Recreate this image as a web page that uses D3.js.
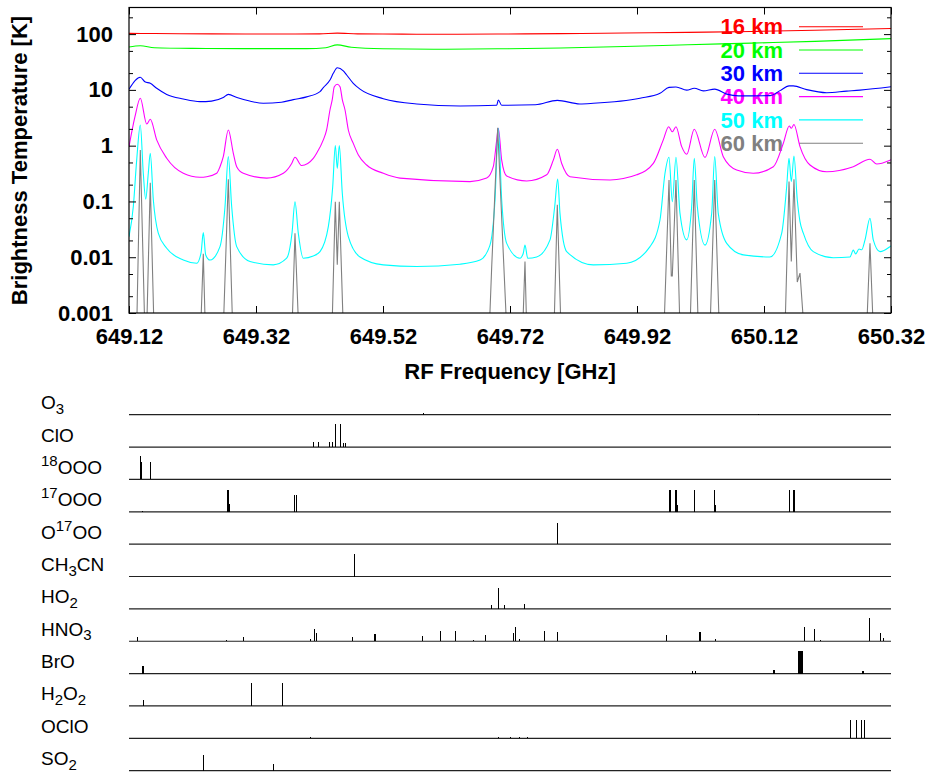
<!DOCTYPE html>
<html>
<head>
<meta charset="utf-8">
<script src="https://cdn.jsdelivr.net/npm/d3@7"></script>
<style>
  body { margin: 0; background: #fff; }
  svg { display: block; font-family: "Liberation Sans", Arial, Helvetica, sans-serif; }
</style>
</head>
<body>
<svg id="chart" width="929" height="773"></svg>
<script>
// tick values / labels
const xTicks = [649.12, 649.32, 649.52, 649.72, 649.92, 650.12, 650.32];
const yTicks = [0.001, 0.01, 0.1, 1, 10, 100];
const yTickLabels = ["0.001", "0.01", "0.1", "1", "10", "100"];

// legend
const altitudes = ["16 km", "20 km", "30 km", "40 km", "50 km", "60 km"];
const altColors = ["#ff0000", "#00ff00", "#0000ff", "#ff00ff", "#00ffff", "#808080"];

// brightness temperature spectra [GHz, K]
const tb16 = [[649.12,103],[649.16,102.5],[649.25,101],[649.35,100.5],[649.42,101],[649.448,104],[649.48,101],[649.55,100],
  [649.6,99.5],[649.7,100.5],[649.8,102],[649.9,104.5],[650.0,107.5],[650.1,111.5],[650.2,117],[650.32,126]];

const tb20 = [[649.12,58.7],[649.1378,62],[649.16,57],[649.22,55.5],[649.3,55],[649.4,55],[649.43,57],[649.448,64],[649.47,58],
  [649.52,54.5],[649.6,53.5],[649.7,54.5],[649.8,56.5],[649.9,60],[650.0,64.5],[650.1,69],[650.2,74],[650.32,83]];

const tb30 = [[649.12,10.3],[649.1378,16.8],[649.145,14],[649.1535,13.1],[649.1636,10.7],[649.1794,8.3],[649.2055,6.87],
  [649.2318,6.15],[649.25,6.3],[649.2685,7.3],[649.2764,8.3],[649.29,7.3],[649.31,6.3],[649.3315,5.75],[649.36,6.0],
  [649.3787,6.7],[649.3998,7.5],[649.4208,9.3],[649.426,11.0],[649.4365,15],[649.4417,19.8],[649.448,25],[649.4575,22],
  [649.4628,18.5],[649.4732,13.1],[649.4838,10.3],[649.5205,6.95],[649.5731,5.59],[649.6413,5.15],[649.6991,5.3],
  [649.7016,6.6],[649.7069,5.3],[649.76,5.4],[649.7945,6.5],[649.83,5.6],[649.8512,5.75],[649.9247,7.1],[649.9562,8.7],
  [649.9704,11.1],[649.9814,11.3],[649.9983,9.9],[650.0102,10.7],[650.0244,9.6],[650.0424,10.3],[650.0613,8.4],
  [650.08,7.8],[650.13,7.9],[650.1452,9.7],[650.1594,11.8],[650.1661,11.8],[650.1872,10.1],[650.2187,8.9],
  [650.25,9.5],[650.2712,9.9],[650.32,11.4]];

const tb40 = [[649.12,0.96],[649.1294,3.3],[649.1378,7.07],[649.1479,2.45],[649.1535,2.97],[649.1636,1.27],[649.1794,0.594],
  [649.2055,0.32],[649.2318,0.272],[649.2424,0.278],[649.2581,0.32],[649.2633,0.42],[649.2685,0.635],[649.2764,1.91],
  [649.2843,0.73],[649.2896,0.42],[649.30,0.32],[649.3369,0.262],[649.363,0.32],[649.3762,0.48],[649.3814,0.62],
  [649.392,0.44],[649.4102,0.59],[649.4155,0.73],[649.426,1.27],[649.4312,1.91],[649.4365,4.36],[649.44,6.6],
  [649.4433,11.4],[649.448,12.6],[649.4523,11.4],[649.456,6.6],[649.4602,4.36],[649.4654,1.91],[649.4732,1.1],
  [649.4812,0.68],[649.4943,0.45],[649.5205,0.32],[649.5468,0.262],[649.657,0.227],[649.6833,0.262],[649.6937,0.42],
  [649.6991,1.27],[649.7016,2.05],[649.7069,0.55],[649.7148,0.286],[649.7463,0.233],[649.7778,0.3],[649.7882,0.55],
  [649.7945,0.86],[649.8014,0.48],[649.8145,0.278],[649.8775,0.243],[649.9195,0.3],[649.9457,0.48],[649.9614,1.27],
  [649.9699,2.19],[649.9756,1.78],[649.9814,2.19],[649.9904,0.96],[649.9983,0.70],[650.0102,1.97],[650.0271,0.615],
  [650.0424,1.97],[650.0559,0.635],[650.077,0.366],[650.1031,0.32],[650.1347,0.42],[650.1504,1.1],[650.1598,2.25],
  [650.163,2.05],[650.1672,2.4],[650.1767,0.96],[650.1924,0.45],[650.2187,0.34],[650.2606,0.42],[650.2869,0.57],
  [650.2975,0.47],[650.3184,0.55],[650.32,0.56]];

const tb50 = [[649.12,0.0234],[649.1268,0.081],[649.1321,0.55],[649.1378,2.35],[649.1425,0.32],[649.1463,0.11],
  [649.1504,0.32],[649.1535,0.73],[649.1583,0.107],[649.1661,0.027],[649.1794,0.0145],[649.2055,0.0089],
  [649.2266,0.0078],[649.2334,0.0118],[649.237,0.0276],[649.2408,0.011],[649.2476,0.0089],[649.2633,0.0155],
  [649.2712,0.081],[649.2764,0.635],[649.2817,0.081],[649.2896,0.0155],[649.3106,0.0084],[649.3472,0.0073],
  [649.3683,0.0096],[649.3767,0.027],[649.3814,0.099],[649.3866,0.027],[649.3945,0.0096],[649.4102,0.0105],
  [649.4208,0.0126],[649.4339,0.0354],[649.4408,0.184],[649.4449,1.0],[649.448,0.39],[649.4512,1.0],[649.4559,0.14],
  [649.4654,0.0234],[649.4838,0.0101],[649.5205,0.0073],[649.5731,0.0068],[649.6413,0.0075],[649.6728,0.0089],
  [649.6885,0.0165],[649.6964,0.107],[649.7016,2.05],[649.7069,0.107],[649.7148,0.0177],[649.7357,0.0096],
  [649.7409,0.0118],[649.7436,0.0165],[649.7479,0.0096],[649.762,0.0101],[649.783,0.0205],[649.7904,0.081],
  [649.7951,0.253],[649.7987,0.061],[649.8093,0.0126],[649.8512,0.0073],[649.9038,0.0078],[649.9405,0.0155],
  [649.9562,0.0465],[649.9641,0.32],[649.9704,0.62],[649.9756,0.099],[649.9814,0.62],[649.9877,0.061],
  [649.9983,0.0205],[650.0061,0.081],[650.0102,0.594],[650.015,0.081],[650.0271,0.0165],[650.0376,0.061],
  [650.0424,0.635],[650.048,0.061],[650.0613,0.0177],[650.0874,0.011],[650.1294,0.0101],[650.1479,0.027],
  [650.1557,0.184],[650.1594,0.594],[650.163,0.227],[650.1672,0.654],[650.1724,0.107],[650.1767,0.0434],
  [650.1819,0.027],[650.1976,0.0126],[650.2291,0.0098],[650.2554,0.0101],[650.2606,0.0134],[650.2644,0.0115],
  [650.2696,0.014],[650.2739,0.0136],[650.2791,0.0205],[650.2869,0.05],[650.2921,0.0205],[650.3027,0.0126],
  [650.3184,0.0155],[650.32,0.016]];

const tb60 = [[649.1321,0.0005],[649.1378,0.84],[649.1449,0.0005],[649.1479,0.0005],[649.1535,0.217],[649.1594,0.0005],
  [649.2329,0.0005],[649.237,0.0115],[649.2402,0.0005],[649.2685,0.0005],[649.2764,0.25],[649.2833,0.0005],
  [649.3767,0.0005],[649.3814,0.027],[649.3872,0.0005],[649.4397,0.0005],[649.4449,0.099],[649.448,0.0073],
  [649.4512,0.099],[649.4575,0.0005],[649.6874,0.0005],[649.6912,0.0068],[649.7006,2.1],[649.7094,0.0118],
  [649.7148,0.0005],[649.74,0.0005],[649.7436,0.0084],[649.7463,0.0005],[649.7893,0.0005],[649.7945,0.087],
  [649.8003,0.0005],[649.9625,0.0005],[649.9704,0.243],[649.974,0.0046],[649.9756,0.0046],[649.9814,0.243],
  [649.9877,0.0005],[650.0035,0.0005],[650.0102,0.243],[650.0165,0.0005],[650.035,0.0005],[650.0424,0.243],
  [650.0496,0.0005],[650.1531,0.0005],[650.1594,0.227],[650.163,0.0084],[650.1672,0.25],[650.1724,0.0036],
  [650.1767,0.0052],[650.183,0.0005],[650.2817,0.0005],[650.2869,0.0177],[650.2921,0.0005]];

// line catalogue panels [GHz, relative strength]
const species = ["O3", "ClO", "18OOO", "17OOO", "O17OO", "CH3CN", "HO2", "HNO3", "BrO", "H2O2", "OClO", "SO2"];
const speciesLabels = [
  [["O",""],["3","sub"]],
  [["ClO",""]],
  [["18","sup"],["OOO",""]],
  [["17","sup"],["OOO",""]],
  [["O",""],["17","sup"],["OO",""]],
  [["CH",""],["3","sub"],["CN",""]],
  [["HO",""],["2","sub"]],
  [["HNO",""],["3","sub"]],
  [["BrO",""]],
  [["H",""],["2","sub"],["O",""],["2","sub"]],
  [["OClO",""]],
  [["SO",""],["2","sub"]]
];
const sO3 = [[649.5841,0.06],[650.1106,0.05]];
const sClO = [[649.4102,0.2],[649.4181,0.2],[649.4354,0.2],[649.4397,0.22],[649.4449,1.0],[649.4523,1.0],
  [649.4575,0.17],[649.4606,0.17]];
const s18OOO = [[649.1378,1.0],[649.14,0.75],[649.1535,0.75]];
const s17OOO = [[649.1405,0.05],[649.2754,0.96],[649.277,0.96],[649.278,0.35],[649.3814,0.74],[649.383,0.74],
  [649.9704,0.96],[649.972,0.96],[649.9809,0.96],[649.9825,0.96],[649.9835,0.3],[650.0102,0.96],[650.0113,0.3],
  [650.0424,0.96],[650.0436,0.3],[650.1594,0.96],[650.1609,0.96],[650.1672,0.96],[650.1688,0.96]];
const sO17OO = [[649.7945,0.91]];
const sCH3CN = [[649.4759,1.0]];
const sHO2 = [[649.6906,0.17],[649.7016,0.91],[649.7121,0.17],[649.7436,0.22]];
const sHNO3 = [[649.1331,0.17],[649.2739,0.04],[649.3011,0.17],[649.4061,0.08],[649.4118,0.52],[649.4156,0.35],
  [649.4723,0.17],[649.5074,0.3],[649.5085,0.3],[649.5819,0.22],[649.6113,0.43],[649.6345,0.43],[649.6622,0.04],
  [649.6822,0.26],[649.7252,0.35],[649.7279,0.6],[649.7347,0.09],[649.774,0.43],[649.7951,0.39],[649.9672,0.26],
  [650.0181,0.39],[650.0203,0.39],[650.0433,0.09],[650.1835,0.6],[650.1992,0.52],[650.2082,0.04],[650.2865,1.0],
  [650.3027,0.35],[650.3079,0.13]];
const sBrO = [[649.1405,0.35],[649.1416,0.35],[649.1427,0.35],[650.0071,0.13],[650.0129,0.13],[650.1347,0.17],
  [650.1362,0.17],[650.1743,1.0],[650.1759,1.0],[650.1775,1.0],[650.1791,1.0],[650.1806,1.0],[650.2748,0.13],
  [650.2764,0.13]];
const sH2O2 = [[649.1425,0.26],[649.3126,1.0],[649.3614,1.0]];
const sOClO = [[649.4066,0.04],[649.4224,0.02],[649.4287,0.02],[649.7016,0.04],[649.72,0.04],[649.7347,0.04],
  [649.7479,0.04],[650.2559,0.78],[650.2654,0.78],[650.2728,0.78],[650.2786,0.78]];
const sSO2 = [[649.237,0.7],[649.3472,0.3]];

const spectra = [tb16, tb20, tb30, tb40, tb50, tb60];
const sticks = [sO3, sClO, s18OOO, s17OOO, sO17OO, sCH3CN, sHO2, sHNO3, sBrO, sH2O2, sOClO, sSO2];

const svg = d3.select("#chart");
svg.append("rect").attr("width", 929).attr("height", 773).attr("fill", "#fff");

const pL = 129, pR = 891, pT = 7.5, pB = 313;
const x = d3.scaleLinear().domain([649.12, 650.32]).range([pL, pR]);
const y = d3.scaleLog().domain([0.001, 300]).range([pB, pT]);

svg.append("clipPath").attr("id", "plotClip")
  .append("rect").attr("x", pL).attr("y", pT).attr("width", pR - pL).attr("height", pB - pT);

// legend (drawn under the curves)
const legend = svg.append("g");
altitudes.forEach((a, i) => {
  const cy = 26.7 + i * 23.3;
  legend.append("text")
    .attr("x", 783).attr("y", cy + 7.6)
    .attr("text-anchor", "end")
    .attr("font-size", 22).attr("font-weight", "bold")
    .attr("fill", altColors[i])
    .text(a);
  legend.append("line")
    .attr("x1", 799).attr("x2", 863).attr("y1", cy).attr("y2", cy)
    .attr("stroke", altColors[i]).attr("stroke-width", 1.1);
});

// spectra
const curves = svg.append("g").attr("clip-path", "url(#plotClip)");
spectra.forEach((s, i) => {
  const line = d3.line()
    .x(d => x(d[0]))
    .y(d => y(d[1]))
    .curve(i === 5 ? d3.curveLinear : d3.curveMonotoneX);
  curves.append("path")
    .attr("d", line(s))
    .attr("fill", "none")
    .attr("stroke", altColors[i])
    .attr("stroke-width", 1.1);
});

// axes
const minor = [];
for (let k = -3; k <= 2; k++) {
  [2, 5].forEach(m => { const v = m * Math.pow(10, k); if (v <= 300) minor.push(+v.toPrecision(3)); });
}

function styleAxis(g) {
  g.select(".domain").remove();
  g.selectAll(".tick line").attr("stroke", "#000").attr("stroke-width", 1);
  g.selectAll(".tick text")
    .attr("font-size", 22).attr("font-weight", "bold")
    .attr("font-family", "'Liberation Sans', Arial, Helvetica, sans-serif")
    .attr("fill", "#000");
}

svg.append("g").attr("transform", `translate(0,${pB})`)
  .call(d3.axisBottom(x).tickValues(xTicks).tickSizeInner(-7).tickSizeOuter(0).tickPadding(15)
    .tickFormat(d3.format(".2f")))
  .call(styleAxis);
svg.append("g").attr("transform", `translate(0,${pT})`)
  .call(d3.axisTop(x).tickValues(xTicks).tickSizeInner(-7).tickSizeOuter(0).tickFormat(""))
  .call(styleAxis);

svg.append("g").attr("transform", `translate(${pL},0)`)
  .call(d3.axisLeft(y).tickValues(yTicks).tickSizeInner(-7).tickSizeOuter(0).tickPadding(16)
    .tickFormat((d, i) => yTickLabels[i]))
  .call(styleAxis);
svg.append("g").attr("transform", `translate(${pL},0)`)
  .call(d3.axisLeft(y).tickValues(minor).tickSizeInner(-4).tickSizeOuter(0).tickFormat(""))
  .call(styleAxis);
svg.append("g").attr("transform", `translate(${pR},0)`)
  .call(d3.axisRight(y).tickValues(yTicks).tickSizeInner(-7).tickSizeOuter(0).tickFormat(""))
  .call(styleAxis);
svg.append("g").attr("transform", `translate(${pR},0)`)
  .call(d3.axisRight(y).tickValues(minor).tickSizeInner(-4).tickSizeOuter(0).tickFormat(""))
  .call(styleAxis);

svg.append("rect")
  .attr("x", pL).attr("y", pT).attr("width", pR - pL).attr("height", pB - pT)
  .attr("fill", "none").attr("stroke", "#000").attr("stroke-width", 1.2);

// axis titles
svg.append("text")
  .attr("transform", "translate(26.5,160.5) rotate(-90)")
  .attr("text-anchor", "middle")
  .attr("font-size", 22).attr("font-weight", "bold")
  .text("Brightness Temperature [K]");
svg.append("text")
  .attr("x", 510).attr("y", 378.5)
  .attr("text-anchor", "middle")
  .attr("font-size", 22).attr("font-weight", "bold")
  .text("RF Frequency [GHz]");

// stick panels
const py = d3.scalePoint().domain(species).range([414.7, 770.7]);
const h = d3.scaleLinear().domain([0, 1]).range([0, 23]);

species.forEach((sp, i) => {
  const g = svg.append("g");
  const base = py(sp);
  g.append("line")
    .attr("x1", pL).attr("x2", pR).attr("y1", base).attr("y2", base)
    .attr("stroke", "#222").attr("stroke-width", 1.2);
  g.selectAll("line.stick")
    .data(sticks[i])
    .join("line")
    .attr("class", "stick")
    .attr("x1", d => x(d[0])).attr("x2", d => x(d[0]))
    .attr("y1", base).attr("y2", d => base - h(d[1]))
    .attr("stroke", "#000").attr("stroke-width", 1)
    .attr("shape-rendering", "crispEdges");

  const label = g.append("text")
    .attr("x", 41).attr("y", base - 5.5)
    .attr("font-size", 19).attr("fill", "#000");
  let shift = 0;
  speciesLabels[i].forEach(([t, kind]) => {
    const target = kind === "sub" ? 4.5 : kind === "sup" ? -8 : 0;
    label.append("tspan")
      .attr("dy", target - shift)
      .attr("font-size", kind ? 15 : 19)
      .text(t);
    shift = target;
  });
});
</script>
</body>
</html>
